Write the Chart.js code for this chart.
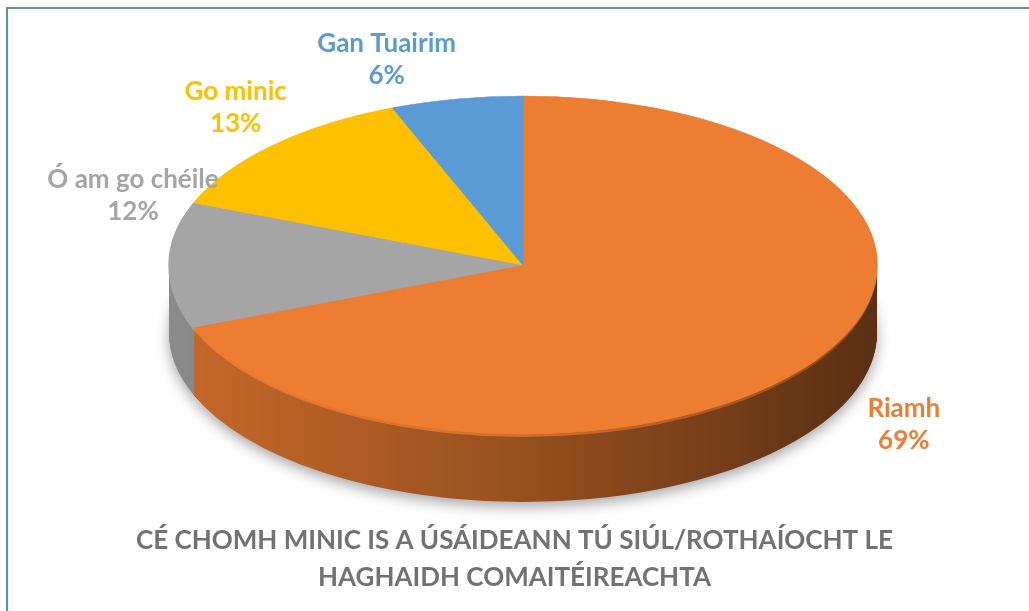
<!DOCTYPE html>
<html>
<head>
<meta charset="utf-8">
<script src="https://cdn.jsdelivr.net/npm/chart.js@4"></script>
<style>
  body { margin: 0; background: #fff; overflow: hidden; }
  canvas { position: absolute; left: 0; top: 0; }
  #frame { position: absolute; left: 6px; top: 7px; width: 1100px; height: 700px;
           border-top: 2px solid #5d9791; border-left: 2px solid #5d9791; }
</style>
</head>
<body>
<canvas id="pieCanvas" width="1029" height="611"></canvas>
<div id="frame"></div>
<script>
const categories = ['Riamh', 'Ó am go chéile', 'Go minic', 'Gan Tuairim'];
const percentages = [69, 12, 13, 6];
const sliceColors = ['#ED7D31', '#A5A5A5', '#FFC000', '#5B9BD5'];
const titleLines = ['CÉ CHOMH MINIC IS A ÚSÁIDEANN TÚ SIÚL/ROTHAÍOCHT LE', 'HAGHAIDH COMAITÉIREACHTA'];

// where the tilted pie sits on the page, and label nudges
const pie = { cx: 523, cy: 265, rx: 354, ry: 169, depth: 68 };
const labelShift = [[88, 57], [-36, -77], [-37, -45], [-70, -47]];

function shade(hex, f) {
  const n = parseInt(hex.slice(1), 16);
  const r = Math.round(((n >> 16) & 255) * f);
  const g = Math.round(((n >> 8) & 255) * f);
  const b = Math.round((n & 255) * f);
  return 'rgb(' + Math.min(r, 255) + ',' + Math.min(g, 255) + ',' + Math.min(b, 255) + ')';
}

const tiltPlugin = {
  id: 'tilt',
  beforeDatasetsDraw(chart) {
    const ctx = chart.ctx;
    const arcs = chart.getDatasetMeta(0).data;
    const a0 = arcs[0];
    const r = a0.outerRadius;
    ctx.save();
    ctx.translate(pie.cx, pie.cy);
    ctx.scale(pie.rx / r, pie.ry / r);
    ctx.translate(-a0.x, -a0.y);
    const unit = r / pie.ry;
    // side wall: the same arcs stacked downwards, darker
    for (let k = pie.depth; k >= 1; k--) {
      ctx.save();
      ctx.translate(0, k * unit);
      if (k === pie.depth) {
        ctx.shadowColor = 'rgba(0,0,0,0.35)';
        ctx.shadowBlur = 14;
        ctx.shadowOffsetY = 5;
      }
      const rim = k <= 3;
      arcs.forEach((arc, i) => {
        const g = ctx.createLinearGradient(a0.x - r, 0, a0.x + r, 0);
        g.addColorStop(0, shade(sliceColors[i], rim ? 1.0 : 0.84));
        g.addColorStop(0.45, shade(sliceColors[i], rim ? 0.9 : 0.66));
        g.addColorStop(1, shade(sliceColors[i], rim ? 0.6 : 0.38));
        const keep = arc.options;
        arc.options = Object.assign({}, keep, { backgroundColor: g, borderWidth: 0 });
        arc.draw(ctx);
        arc.options = keep;
      });
      ctx.restore();
    }
  },
  afterDatasetsDraw(chart) {
    const ctx = chart.ctx;
    ctx.restore();
    const arcs = chart.getDatasetMeta(0).data;
    ctx.save();
    ctx.font = 'bold 26px Lato';
    ctx.textAlign = 'center';
    arcs.forEach((arc, i) => {
      const mid = (arc.startAngle + arc.endAngle) / 2;
      const x = pie.cx + Math.cos(mid) * pie.rx + labelShift[i][0];
      const y = pie.cy + Math.sin(mid) * pie.ry + labelShift[i][1];
      ctx.fillStyle = sliceColors[i];
      ctx.fillText(categories[i], x, y);
      ctx.fillText(percentages[i] + '%', x, y + 32);
    });
    ctx.restore();
  }
};

const config = {
  type: 'pie',
  data: {
    labels: categories,
    datasets: [{
      data: percentages,
      backgroundColor: sliceColors,
      borderColor: sliceColors,
      borderWidth: 1,
      clip: false
    }]
  },
  options: {
    responsive: false,
    animation: false,
    layout: { padding: { top: 20, bottom: 15, left: 20, right: 20 } },
    plugins: {
      legend: { display: false },
      tooltip: { enabled: false },
      title: {
        display: true,
        position: 'bottom',
        text: titleLines,
        color: '#727272',
        font: { family: 'Lato', size: 26, weight: 'bold', lineHeight: 1.42 },
        padding: { top: 0, bottom: 0 }
      }
    }
  },
  plugins: [tiltPlugin]
};

const pieChart = new Chart(document.getElementById('pieCanvas'), config);
</script>
</body>
</html>
